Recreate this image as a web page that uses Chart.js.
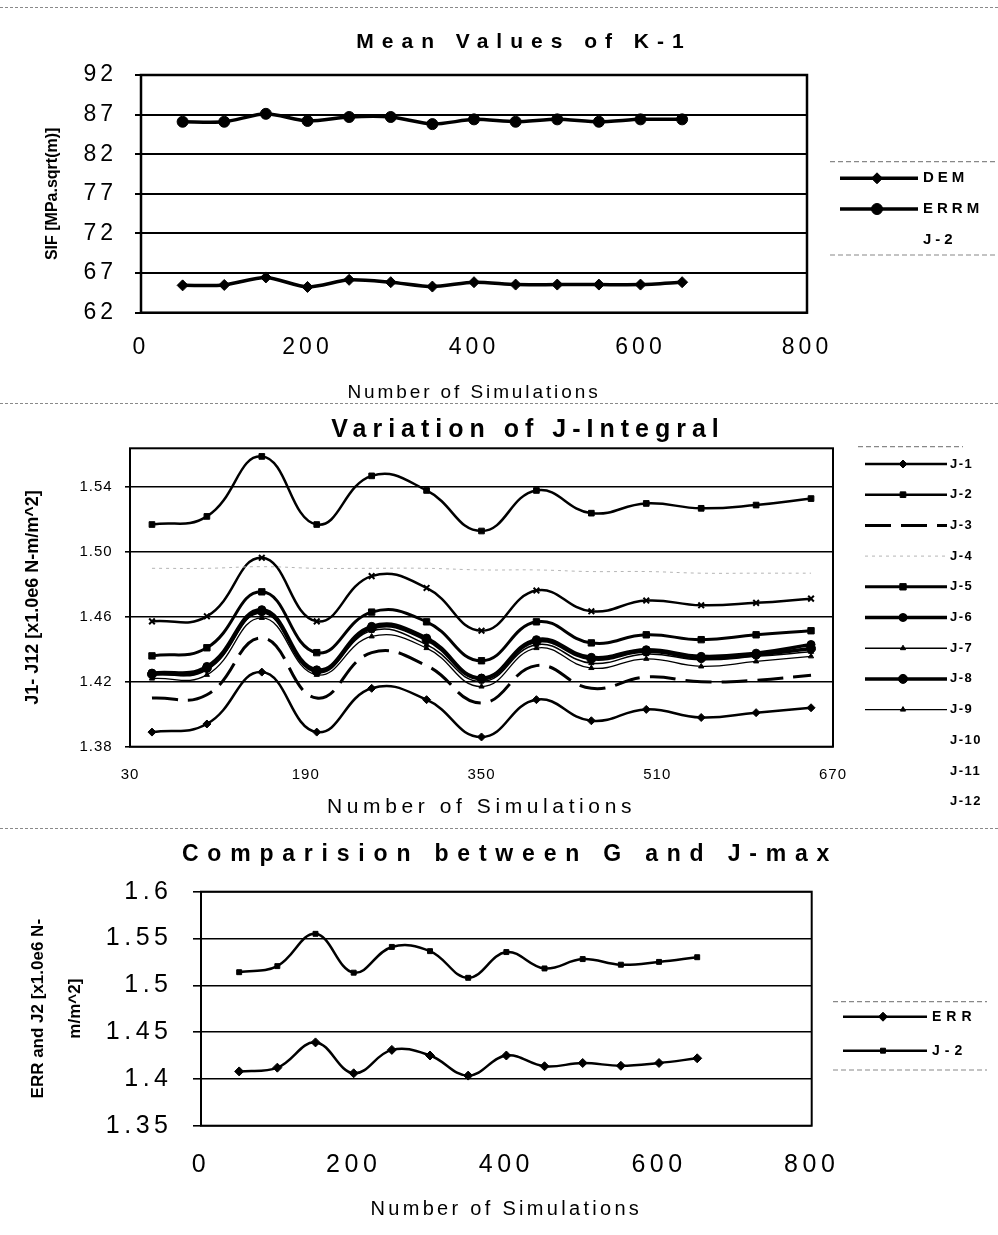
<!DOCTYPE html>
<html>
<head>
<meta charset="utf-8">
<title>K-1 and J-Integral charts</title>
<script src="https://cdn.jsdelivr.net/npm/chart.js@4.4.1/dist/chart.umd.min.js"></script>
<style>
  body { margin: 0; background: #fff; }
  #page { position: relative; width: 998px; height: 1235px; overflow: hidden; background: #fff; }
  .panel { position: absolute; left: 0; width: 998px; }
  .rule { position: absolute; left: 0; width: 998px; border-top: 1px dashed #8a8a8a; }
</style>
</head>
<body>
<div id="page">
  <div class="rule" style="top:7px"></div>
  <div class="rule" style="top:403px"></div>
  <div class="rule" style="top:828px"></div>
  <div class="panel" style="top:10px;height:395px"><canvas id="k1Chart" width="998" height="395"></canvas></div>
  <div class="panel" style="top:405px;height:415px"><canvas id="jChart" width="998" height="415"></canvas></div>
  <div class="panel" style="top:820px;height:415px"><canvas id="gChart" width="998" height="415"></canvas></div>
</div>
<script>
// ---- data ----
const simCounts = [50, 100, 150, 200, 250, 300, 350, 400, 450, 500, 550, 600, 650];

// chart 1: mean K-1
const k1Dem  = [65.45, 65.5, 66.45, 65.25, 66.15, 65.85, 65.3, 65.85, 65.55, 65.55, 65.55, 65.55, 65.85];
const k1Errm = [86.1, 86.1, 87.1, 86.2, 86.7, 86.7, 85.8, 86.4, 86.1, 86.4, 86.1, 86.4, 86.4];

// chart 2: J-integral per contour
const j1  = [1.389, 1.394, 1.426, 1.389, 1.416, 1.409, 1.386, 1.409, 1.396, 1.403, 1.398, 1.401, 1.404];
const j2  = [1.517, 1.522, 1.559, 1.517, 1.547, 1.538, 1.513, 1.538, 1.524, 1.530, 1.527, 1.529, 1.533];
const j3  = [1.410, 1.412, 1.447, 1.410, 1.438, 1.430, 1.407, 1.430, 1.416, 1.423, 1.420, 1.421, 1.424];
const j4  = [1.490, 1.490, 1.491, 1.490, 1.490, 1.490, 1.489, 1.489, 1.488, 1.488, 1.487, 1.487, 1.487];
const j5  = [1.436, 1.441, 1.4755, 1.438, 1.463, 1.457, 1.433, 1.457, 1.444, 1.449, 1.446, 1.449, 1.4515];
const j6  = [1.4254, 1.4295, 1.4645, 1.4274, 1.4542, 1.447, 1.4223, 1.446, 1.4351, 1.4398, 1.4357, 1.4377, 1.443];
const j7  = [1.4243, 1.4274, 1.4625, 1.426, 1.4515, 1.4429, 1.4202, 1.4429, 1.4315, 1.4371, 1.4336, 1.4357, 1.4385];
const j8  = [1.4247, 1.4285, 1.4635, 1.4264, 1.4532, 1.446, 1.4219, 1.445, 1.4342, 1.4388, 1.4346, 1.4367, 1.4405];
const j9  = [1.422, 1.4243, 1.4594, 1.4243, 1.448, 1.4408, 1.4171, 1.4408, 1.4285, 1.4342, 1.4295, 1.4326, 1.4357];
const j10 = [1.4573, 1.4604, 1.4965, 1.4573, 1.4852, 1.4779, 1.4515, 1.4763, 1.4635, 1.4701, 1.4672, 1.4687, 1.4713];
const jTicks = [1.38, 1.42, 1.46, 1.50, 1.54];

// chart 3: G (ERR) vs J-2
const gErr = [1.408, 1.412, 1.439, 1.406, 1.431, 1.425, 1.4035, 1.425, 1.4135, 1.417, 1.414, 1.417, 1.422];
const gJ2  = [1.514, 1.5205, 1.555, 1.5135, 1.541, 1.5365, 1.508, 1.5355, 1.518, 1.528, 1.522, 1.525, 1.530];

const FONT = "'Liberation Sans', Arial, sans-serif";
Chart.defaults.font.family = FONT;
Chart.defaults.color = "#000";

const pts = (ys) => ys.map((y, i) => ({ x: simCounts[i], y: y }));

// frame, headline, legend and per-size letter spacing (the scan has very airy lettering)
const sheetPlugin = {
  id: "sheet",
  beforeInit(chart, args, opts) {
    const ctx = chart.ctx;
    const spacing = opts.spacing || {};
    const fill = ctx.fillText;
    const measure = ctx.measureText;
    const pick = () => {
      const m = /(\d+)px/.exec(ctx.font);
      ctx.letterSpacing = (m && spacing[m[1]] ? spacing[m[1]] : 0) + "px";
    };
    ctx.fillText = function () { pick(); return fill.apply(ctx, arguments); };
    ctx.measureText = function () { pick(); return measure.apply(ctx, arguments); };
  },
  beforeDatasetsDraw(chart, args, opts) {
    const { ctx, chartArea: a } = chart;
    ctx.save();
    ctx.strokeStyle = "#000";
    ctx.lineWidth = opts.frameWidth;
    ctx.strokeRect(a.left, a.top, a.right - a.left, a.bottom - a.top);
    ctx.restore();
  },
  afterDraw(chart, args, opts) {
    const ctx = chart.ctx;
    const t = opts.headline;
    const lg = opts.key;
    ctx.save();
    ctx.fillStyle = "#000";
    ctx.font = t.font;
    ctx.textAlign = "center";
    ctx.textBaseline = "middle";
    ctx.fillText(t.text, t.x, t.y);

    // dashed rules around the legend
    ctx.strokeStyle = "#888";
    ctx.lineWidth = 1.2;
    ctx.setLineDash([5, 3]);
    lg.rules.forEach((y) => {
      ctx.beginPath();
      ctx.moveTo(lg.ruleX0, y);
      ctx.lineTo(lg.ruleX1, y);
      ctx.stroke();
    });

    ctx.font = lg.font;
    ctx.textAlign = "left";
    chart.data.datasets.forEach((ds, i) => {
      const y = lg.y0 + i * lg.dy;
      if (!ds.noSample) {
        ctx.strokeStyle = ds.borderColor;
        ctx.lineWidth = ds.borderWidth;
        ctx.setLineDash(ds.borderDash || []);
        ctx.beginPath();
        ctx.moveTo(lg.x0, y);
        ctx.lineTo(lg.x1, y);
        ctx.stroke();
        if (ds.pointRadius > 0) {
          ctx.setLineDash([]);
          ctx.fillStyle = ds.pointBackgroundColor;
          ctx.strokeStyle = ds.pointBorderColor;
          ctx.lineWidth = ds.pointBorderWidth;
          Chart.helpers.drawPoint(ctx, {
            pointStyle: ds.pointStyle, radius: ds.pointRadius,
            borderWidth: ds.pointBorderWidth, rotation: 0
          }, lg.xm, y);
        }
      }
      ctx.fillStyle = "#000";
      ctx.fillText(ds.label, lg.textX, y);
    });
    ctx.restore();
  }
};

function series(label, ys, style) {
  return Object.assign({
    label: label,
    data: ys ? pts(ys) : [],
    borderColor: "#000",
    backgroundColor: "#000",
    pointBackgroundColor: "#000",
    pointBorderColor: "#000",
    pointBorderWidth: 1,
    borderWidth: 2.5,
    pointRadius: 4,
    pointStyle: "circle",
    fill: false
  }, style);
}

const baseOpts = {
  responsive: false,
  animation: false,
  events: [],
  plugins: { legend: { display: false }, tooltip: { enabled: false } }
};

// ---- 1. Mean Values of K-1 ----
new Chart(document.getElementById("k1Chart"), {
  type: "line",
  data: {
    datasets: [
      series("DEM", k1Dem, { borderWidth: 3.5, pointStyle: "rectRot", pointRadius: 5.5, tension: 0.25 }),
      series("ERRM", k1Errm, { borderWidth: 3.5, pointStyle: "circle", pointRadius: 5.5, tension: 0.25 }),
      series("J-2", null, { noSample: true, pointRadius: 0 })
    ]
  },
  options: Object.assign({}, baseOpts, {
    layout: { padding: { top: 65, right: 191, bottom: 0, left: 0 } },
    plugins: Object.assign({}, baseOpts.plugins, {
      sheet: {
        spacing: { 21: 8, 23: 4, 19: 2.9, 15: 4 },
        frameWidth: 2.5,
        headline: { text: "Mean Values of K-1", x: 524, y: 32, font: "bold 21px " + FONT },
        key: { rules: [151.7, 245], ruleX0: 830, ruleX1: 997, x0: 840, x1: 918, xm: 877,
               textX: 923, y0: 168.3, dy: 30.7, font: "bold 15px " + FONT }
      }
    }),
    scales: {
      x: {
        type: "linear", min: 0, max: 800,
        ticks: { stepSize: 200, padding: 21.5, font: { size: 23 }, maxRotation: 0, autoSkip: false },
        grid: { display: false, drawTicks: false },
        border: { display: false },
        title: { display: true, text: "Number of Simulations", font: { size: 19 }, padding: { top: 0, bottom: 0.6 } },
        afterFit: (s) => { s.height = 92.3; }
      },
      y: {
        min: 62, max: 92,
        ticks: { stepSize: 5, padding: 18, font: { size: 23 } },
        grid: { color: "#000", lineWidth: 2, tickLength: 6, tickColor: "#000" },
        border: { display: false },
        title: { display: true, text: "SIF [MPa.sqrt(m)]", font: { size: 16, weight: "bold" }, padding: { top: 43.4, bottom: 0 } },
        afterFit: (s) => { s.width = 141; }
      }
    }
  }),
  plugins: [sheetPlugin]
});

// ---- 2. Variation of J-Integral ----
new Chart(document.getElementById("jChart"), {
  type: "line",
  data: {
    datasets: [
      series("J-1", j1, { pointStyle: "rectRot", pointRadius: 4, tension: 0.45 }),
      series("J-2", j2, { pointStyle: "rect", pointRadius: 4, tension: 0.45 }),
      series("J-3", j3, { borderWidth: 3, borderDash: [26, 10], pointRadius: 0, tension: 0.45 }),
      series("J-4", j4, { borderColor: "#b5b5b5", borderWidth: 1, borderDash: [3, 4], pointRadius: 0, tension: 0.45 }),
      series("J-5", j5, { borderWidth: 3, pointStyle: "rect", pointRadius: 4.5, tension: 0.45 }),
      series("J-6", j6, { borderWidth: 3.5, pointStyle: "circle", pointRadius: 4, tension: 0.45 }),
      series("J-7", j7, { borderWidth: 1.5, pointStyle: "triangle", pointRadius: 3, tension: 0.45 }),
      series("J-8", j8, { borderWidth: 3.5, pointStyle: "circle", pointRadius: 4.5, tension: 0.45 }),
      series("J-9", j9, { borderWidth: 1.3, pointStyle: "triangle", pointRadius: 3, tension: 0.45 }),
      series("J-10", j10, { noSample: true, pointStyle: "crossRot", pointRadius: 4, pointBorderWidth: 2, tension: 0.45 }),
      series("J-11", null, { noSample: true, pointRadius: 0 }),
      series("J-12", null, { noSample: true, pointRadius: 0 })
    ]
  },
  options: Object.assign({}, baseOpts, {
    layout: { padding: { top: 43.3, right: 165, bottom: 0, left: 0 } },
    plugins: Object.assign({}, baseOpts.plugins, {
      sheet: {
        spacing: { 25: 6, 15: 1, 21: 4.6, 13: 1.5 },
        frameWidth: 2,
        headline: { text: "Variation of J-Integral", x: 528, y: 25, font: "bold 25px " + FONT },
        key: { rules: [41.7], ruleX0: 858, ruleX1: 963, x0: 865, x1: 947, xm: 903,
               textX: 950, y0: 59, dy: 30.7, font: "bold 13px " + FONT }
      }
    }),
    scales: {
      x: {
        type: "linear", min: 30, max: 670,
        ticks: { stepSize: 160, padding: 19.3, font: { size: 15 }, maxRotation: 0, autoSkip: false },
        grid: { display: false, drawTicks: false },
        border: { display: false },
        title: { display: true, text: "Number of Simulations", font: { size: 21 }, padding: { top: 0, bottom: 0.4 } },
        afterFit: (s) => { s.height = 73.3; }
      },
      y: {
        min: 1.38, max: 1.564,
        afterBuildTicks: (s) => { s.ticks = jTicks.map((v) => ({ value: v })); },
        ticks: { padding: 12.3, font: { size: 15 }, callback: (v) => Number(v).toFixed(2) },
        grid: { color: "#000", lineWidth: 1.6, tickLength: 5, tickColor: "#000" },
        border: { display: false },
        title: { display: true, text: "J1- J12 [x1.0e6 N-m/m^2]", font: { size: 18, weight: "bold" }, padding: { top: 22.2, bottom: 0 } },
        afterFit: (s) => { s.width = 130; }
      }
    }
  }),
  plugins: [sheetPlugin]
});

// ---- 3. Comparision between G and J-max ----
new Chart(document.getElementById("gChart"), {
  type: "line",
  data: {
    datasets: [
      series("ERR", gErr, { pointStyle: "rectRot", pointRadius: 4.5, tension: 0.4 }),
      series("J-2", gJ2, { pointStyle: "rect", pointRadius: 3.5, tension: 0.4 })
    ]
  },
  options: Object.assign({}, baseOpts, {
    layout: { padding: { top: 71.7, right: 186.3, bottom: 0, left: 0 } },
    plugins: Object.assign({}, baseOpts.plugins, {
      sheet: {
        spacing: { 23: 8.8, 25: 4.5, 20: 3.3, 14: 5 },
        frameWidth: 2,
        headline: { text: "Comparision between G and J-max", x: 510, y: 35, font: "bold 23px " + FONT },
        key: { rules: [181.7, 250], ruleX0: 833, ruleX1: 987, x0: 843, x1: 927, xm: 883,
               textX: 932, y0: 196.7, dy: 34, font: "bold 14px " + FONT }
      }
    }),
    scales: {
      x: {
        type: "linear", min: 0, max: 800,
        ticks: { stepSize: 200, padding: 24.3, font: { size: 25 }, maxRotation: 0, autoSkip: false },
        grid: { display: false, drawTicks: false },
        border: { display: false },
        title: { display: true, text: "Number of Simulations", font: { size: 20 }, padding: { top: 0, bottom: 13.2 } },
        afterFit: (s) => { s.height = 109.3; }
      },
      y: {
        min: 1.35, max: 1.6,
        ticks: { stepSize: 0.05, padding: 20.5, font: { size: 25 }, callback: (v) => String(Number(Number(v).toFixed(2))) },
        grid: { color: "#000", lineWidth: 1.6, tickLength: 8, tickColor: "#000" },
        border: { display: false },
        title: {
          display: true, text: ["ERR and J2 [x1.0e6 N-", "m/m^2]"],
          font: { size: 17, weight: "bold", lineHeight: "37px" }, padding: { top: 19.5, bottom: 0 }
        },
        afterFit: (s) => { s.width = 201; }
      }
    }
  }),
  plugins: [sheetPlugin]
});
</script>
</body>
</html>
